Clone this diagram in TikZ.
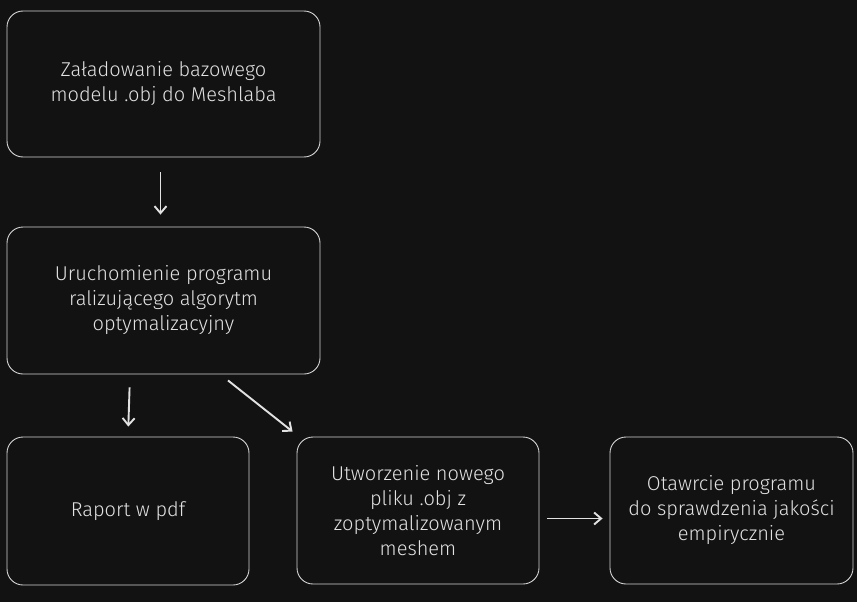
\documentclass[tikz,border=0pt]{standalone}
\usepackage{fontspec}
\setmainfont{Fira Sans Light}
\usepackage{xcolor}
\usepackage{tikz}
\usetikzlibrary{arrows.meta, positioning, backgrounds}

\definecolor{bgdark}{HTML}{121212}
\definecolor{inkline}{HTML}{D4D4D4}
\definecolor{inktext}{HTML}{E2E2E2}

\tikzset{
  stepbox/.style={draw=inkline, line width=0.9pt, rounded corners=16pt,
    fill=bgdark, text=inktext, align=center, font=\fontsize{20}{25}\selectfont,
    inner sep=0pt},
  flow/.style={draw=inktext, line width=1.9pt,
    -{Straight Barb[length=7pt,width=12pt]}},
}

\begin{document}
\begin{tikzpicture}[x=1pt, y=-1pt]
  \fill[bgdark] (0,0) rectangle (857,602);
  \useasboundingbox (0,0) rectangle (857,602);

  \node[stepbox, minimum width=313pt, minimum height=146pt] (load) at (163.5,84)
    {Załadowanie bazowego\\modelu .obj do Meshlaba};
  \node[stepbox, minimum width=313pt, minimum height=147pt] (run) at (163.5,300.5)
    {Uruchomienie programu\\ralizującego algorytm\\optymalizacyjny};
  \node[stepbox, minimum width=242pt, minimum height=148pt] (report) at (128,511)
    {Raport w pdf};
  \node[stepbox, minimum width=242pt, minimum height=147pt] (mesh) at (418,510.5)
    {Utworzenie nowego\\pliku .obj z\\zoptymalizowanym\\meshem};
  \node[stepbox, minimum width=243pt, minimum height=147pt] (check) at (731.5,510.5)
    {Otawrcie programu\\do sprawdzenia jakości\\empirycznie};

  \draw[flow, shorten <=15pt, shorten >=12pt] ([xshift=-3pt]load.south) -- ([xshift=-3pt]run.north);
  \draw[flow, shorten <=13pt, shorten >=10pt] ([xshift=2pt]run.south -| report) -- (report.north);
  \draw[flow] ([xshift=64.5pt, yshift=-6pt]run.south) -- ([xshift=-4pt, yshift=5pt]mesh.north west);
  \draw[flow, shorten <=8pt, shorten >=7pt] ([yshift=-8pt]mesh.east) -- ([yshift=-8pt]check.west);
\end{tikzpicture}
\end{document}
